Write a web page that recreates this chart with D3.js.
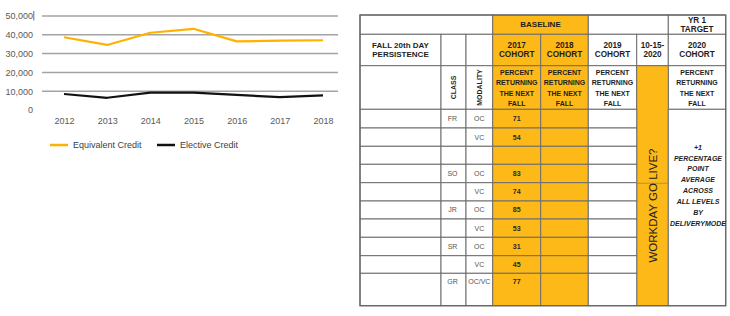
<!DOCTYPE html>
<html>
<head>
<meta charset="utf-8">
<script src="https://cdn.jsdelivr.net/npm/d3@7"></script>
<style>
  html, body { margin: 0; padding: 0; background: #fff; }
  svg { display: block; font-family: "Liberation Sans", Arial, sans-serif; }
</style>
</head>
<body>
<svg id="chart" width="730" height="316"></svg>
<script>
// line chart data
const years = ["2012", "2013", "2014", "2015", "2016", "2017", "2018"];
const equivalentCredit = [38700, 34600, 41100, 43200, 36500, 36900, 37100];
const electiveCredit = [8500, 6500, 9200, 9200, 8000, 6900, 7800];
const yTicks = [0, 10000, 20000, 30000, 40000, 50000];
const seriesNames = ["Equivalent Credit", "Elective Credit"];

// table data
const classes = ["FR", "", "", "SO", "", "JR", "", "SR", "", "GR"];
const modalities = ["OC", "VC", "", "OC", "VC", "OC", "VC", "OC", "VC", "OC/VC"];
const cohort2017 = ["71", "54", "", "83", "74", "85", "53", "31", "45", "77"];
const cohortHeaders = [["2017", "COHORT"], ["2018", "COHORT"], ["2019", "COHORT"], ["10-15-", "2020"], ["2020", "COHORT"]];
const percentLabel = ["PERCENT", "RETURNING", "THE NEXT", "FALL"];
const targetNote = ["+1", "PERCENTAGE", "POINT", "AVERAGE", "ACROSS", "ALL LEVELS", "BY", "DELIVERYMODE"];

const ORANGE = "#FFB000";
const GOLD = "#FDB917";
const svg = d3.select("#chart");

// ---------- line chart ----------
const x = d3.scalePoint().domain(years).range([64, 323]);
const y = d3.scaleLinear().domain([0, 50000]).range([110, 16]);

svg.append("g").selectAll("line")
  .data(yTicks.filter(d => d > 0))
  .enter().append("line")
  .attr("x1", 42).attr("x2", 338)
  .attr("y1", d => y(d)).attr("y2", d => y(d))
  .attr("stroke", "#a3a3a3").attr("stroke-width", 1.5);

const yAxis = svg.append("g")
  .attr("transform", "translate(33,0)")
  .call(d3.axisLeft(y).tickValues(yTicks).tickSize(0).tickPadding(0).tickFormat(d3.format(",")));
yAxis.select(".domain").remove();
yAxis.selectAll("text").attr("font-size", 9).attr("fill", "#595959").attr("font-family", "Liberation Sans, Arial, sans-serif");

const xAxis = svg.append("g")
  .attr("transform", "translate(0,118)")
  .call(d3.axisBottom(x).tickSize(0).tickPadding(0));
xAxis.select(".domain").remove();
xAxis.selectAll("text").attr("font-size", 9).attr("fill", "#595959").attr("font-family", "Liberation Sans, Arial, sans-serif");

// stray cursor mark after the top label
svg.append("line").attr("x1", 33.8).attr("x2", 33.8).attr("y1", 11).attr("y2", 20.5)
  .attr("stroke", "#444").attr("stroke-width", 0.8);

const line = d3.line().x((d, i) => x(years[i])).y(d => y(d));
[[equivalentCredit, ORANGE], [electiveCredit, "#111"]].forEach(([vals, c]) => {
  svg.append("path").datum(vals).attr("d", line)
    .attr("fill", "none").attr("stroke", c).attr("stroke-width", 2.2)
    .attr("stroke-linejoin", "round");
});

const legend = svg.append("g").selectAll("g")
  .data(seriesNames).enter().append("g")
  .attr("transform", (d, i) => `translate(${i === 0 ? 50 : 157},145)`);
legend.append("line").attr("x1", 0).attr("x2", 18)
  .attr("stroke", (d, i) => i === 0 ? ORANGE : "#111").attr("stroke-width", 2.5);
legend.append("text").attr("x", 23).attr("y", 3.2)
  .attr("font-size", 9).attr("fill", "#404040").text(d => d);

// ---------- table ----------
const colX = [360, 441, 466, 492.7, 540.7, 588.3, 636.7, 668.3, 725.7];
const headY = [15, 34.3, 65.7, 109.3];
const rowY = [109.3, 128, 146.3, 164.3, 182.7, 201, 219, 237.3, 255.7, 273.3, 305.7];
const STROKE = "#6e6e6e";
const tbl = svg.append("g");

const cells = [];
function cell(c0, c1, y0, y1, fill) { cells.push({ x0: colX[c0], x1: colX[c1], y0, y1, fill }); }

cell(0, 3, headY[0], headY[1], "#fff");
cell(3, 5, headY[0], headY[1], GOLD);
cell(5, 7, headY[0], headY[1], "#fff");
cell(7, 8, headY[0], headY[1], "#fff");
for (let c = 0; c < 8; c++) {
  cell(c, c + 1, headY[1], headY[2], c === 3 || c === 4 ? GOLD : "#fff");
  if (c !== 6) cell(c, c + 1, headY[2], headY[3], c === 3 || c === 4 ? GOLD : "#fff");
}
cell(6, 7, headY[2], rowY[rowY.length - 1], GOLD);
cell(7, 8, rowY[0], rowY[rowY.length - 1], "#fff");
for (let r = 0; r < classes.length; r++) {
  for (let c = 0; c < 6; c++) {
    cell(c, c + 1, rowY[r], rowY[r + 1], c === 3 || c === 4 ? GOLD : "#fff");
  }
}

tbl.selectAll("rect").data(cells).enter().append("rect")
  .attr("x", d => d.x0).attr("y", d => d.y0)
  .attr("width", d => d.x1 - d.x0).attr("height", d => d.y1 - d.y0)
  .attr("fill", d => d.fill).attr("stroke", STROKE).attr("stroke-width", 1);

// faint line crossing the merged gold column
tbl.append("line").attr("x1", colX[6]).attr("x2", colX[7]).attr("y1", 183.3).attr("y2", 183.3)
  .attr("stroke", "#9a8a5a").attr("stroke-width", 0.8);

// outer frame
tbl.append("rect").attr("x", colX[0]).attr("y", headY[0])
  .attr("width", colX[8] - colX[0]).attr("height", rowY[rowY.length - 1] - headY[0])
  .attr("fill", "none").attr("stroke", "#666").attr("stroke-width", 1.3);

function lines(lst, cx, cy, size, lh, opts = {}) {
  const t = tbl.append("text").attr("text-anchor", "middle")
    .attr("font-size", size).attr("font-weight", opts.weight || "bold")
    .attr("font-style", opts.style || "normal")
    .attr("fill", opts.fill || "#1e1e1e");
  const y0 = cy - (lst.length - 1) * lh / 2 + size * 0.35;
  lst.forEach((s, i) => t.append("tspan").attr("x", cx).attr("y", y0 + i * lh).text(s));
  return t;
}
const mid = (a, b) => (a + b) / 2;

lines(["BASELINE"], mid(colX[3], colX[5]), mid(headY[0], headY[1]), 8, 9);
lines(["YR 1", "TARGET"], mid(colX[7], colX[8]), mid(headY[0], headY[1]), 8.2, 8.6);
lines(["FALL 20th DAY", "PERSISTENCE"], mid(colX[0], colX[1]), mid(headY[1], headY[2]), 8, 9);
cohortHeaders.forEach((h, i) => {
  const c = i + 3;
  lines(h, mid(colX[c], colX[c + 1]), mid(headY[1], headY[2]), 8.2, 9.2);
});
[3, 4, 5, 7].forEach(c => lines(percentLabel, mid(colX[c], colX[c + 1]), mid(headY[2], headY[3]) + 0.5, 7, 10.1));

[["CLASS", 1], ["MODALITY", 2]].forEach(([s, c]) => {
  tbl.append("text").attr("text-anchor", "middle").attr("font-size", 7).attr("font-weight", "bold")
    .attr("fill", "#1e1e1e")
    .attr("transform", `translate(${mid(colX[c], colX[c + 1]) + 2.5},${mid(headY[2], headY[3])}) rotate(-90)`)
    .text(s);
});

tbl.append("text").attr("text-anchor", "middle").attr("font-size", 11.5).attr("fill", "#222")
  .attr("transform", `translate(${mid(colX[6], colX[7]) + 4},205.5) rotate(-90)`)
  .text("WORKDAY GO LIVE?");

lines(targetNote, mid(colX[7], colX[8]) + 1, 185.3, 7, 10.9, { style: "italic" });

// data rows
classes.forEach((cl, r) => {
  const last = r === classes.length - 1;
  const cy = last ? rowY[r] + 8 : mid(rowY[r], rowY[r + 1]);
  lines([cl], mid(colX[1], colX[2]) - 1, cy, 7, 9, { weight: "normal", fill: "#555" });
  lines([modalities[r]], mid(colX[2], colX[3]), cy, 7, 9, { weight: "normal", fill: "#555" });
  lines([cohort2017[r]], mid(colX[3], colX[4]), cy, 7, 9, { fill: "#2a2a2a" });
});
</script>
</body>
</html>
